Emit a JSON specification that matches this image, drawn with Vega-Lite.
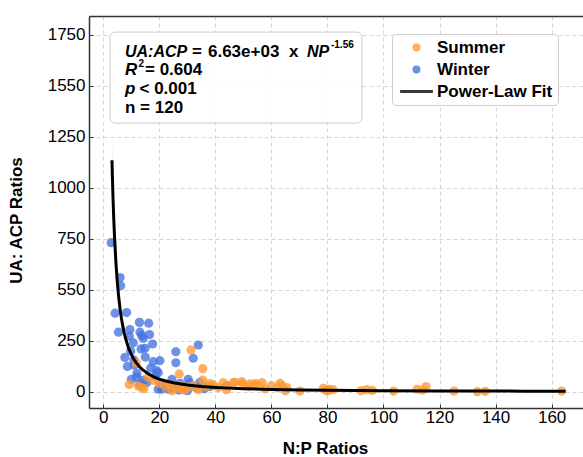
{
  "$schema": "https://vega.github.io/schema/vega-lite/v6.json",
  "width": 494,
  "height": 392,
  "autosize": "none",
  "padding": {"left": 89, "top": 16, "right": 0, "bottom": 48},
  "config": {
    "view": {"stroke": null},
    "font": "Liberation Sans",
    "axis": {
      "labelFont": "Liberation Sans", "labelFontSize": 17, "labelColor": "black",
      "titleFont": "Liberation Sans", "titleFontSize": 17, "titleFontWeight": "bold", "titleColor": "black",
      "domainColor": "#333333", "domainWidth": 1.5, "tickColor": "#333333", "tickSize": -4, "tickWidth": 1,
      "gridColor": "#cccccc", "gridDash": [4, 3], "gridWidth": 0.8
    }
  },
  "datasets": {
    "pts": [
      {"season": "Winter", "np": 2.8, "uaacp": 731}, {"season": "Winter", "np": 6.0, "uaacp": 560}, {"season": "Winter", "np": 6.2, "uaacp": 520},
      {"season": "Winter", "np": 4.2, "uaacp": 385}, {"season": "Winter", "np": 8.3, "uaacp": 388}, {"season": "Winter", "np": 5.4, "uaacp": 292},
      {"season": "Winter", "np": 9.5, "uaacp": 305}, {"season": "Winter", "np": 9.3, "uaacp": 272}, {"season": "Winter", "np": 12.9, "uaacp": 340},
      {"season": "Winter", "np": 16.2, "uaacp": 336}, {"season": "Winter", "np": 13.1, "uaacp": 292}, {"season": "Winter", "np": 13.7, "uaacp": 275},
      {"season": "Winter", "np": 14.3, "uaacp": 262}, {"season": "Winter", "np": 10.7, "uaacp": 240}, {"season": "Winter", "np": 14.9, "uaacp": 213},
      {"season": "Winter", "np": 17.6, "uaacp": 234}, {"season": "Winter", "np": 7.7, "uaacp": 168}, {"season": "Winter", "np": 8.6, "uaacp": 124},
      {"season": "Winter", "np": 10.9, "uaacp": 155}, {"season": "Winter", "np": 17.8, "uaacp": 147}, {"season": "Winter", "np": 20.2, "uaacp": 152},
      {"season": "Winter", "np": 16.9, "uaacp": 115}, {"season": "Winter", "np": 19.6, "uaacp": 93}, {"season": "Winter", "np": 11.9, "uaacp": 71},
      {"season": "Winter", "np": 14.3, "uaacp": 57}, {"season": "Winter", "np": 25.9, "uaacp": 196}, {"season": "Winter", "np": 25.9, "uaacp": 142},
      {"season": "Winter", "np": 33.9, "uaacp": 229}, {"season": "Winter", "np": 32.1, "uaacp": 164}, {"season": "Winter", "np": 19.6, "uaacp": 12},
      {"season": "Winter", "np": 20.8, "uaacp": 12}, {"season": "Winter", "np": 23.2, "uaacp": 12}, {"season": "Winter", "np": 25.0, "uaacp": 17},
      {"season": "Winter", "np": 27.4, "uaacp": 41}, {"season": "Winter", "np": 30.3, "uaacp": 61}, {"season": "Winter", "np": 30.9, "uaacp": 41},
      {"season": "Winter", "np": 34.5, "uaacp": 46}, {"season": "Winter", "np": 38.1, "uaacp": 25}, {"season": "Winter", "np": 44.0, "uaacp": 28},
      {"season": "Winter", "np": 22.0, "uaacp": 30}, {"season": "Winter", "np": 27.0, "uaacp": 8}, {"season": "Winter", "np": 30.0, "uaacp": 5},
      {"season": "Winter", "np": 13.0, "uaacp": 36}, {"season": "Winter", "np": 15.5, "uaacp": 45}, {"season": "Winter", "np": 18.5, "uaacp": 75},
      {"season": "Winter", "np": 12.0, "uaacp": 90}, {"season": "Winter", "np": 11.0, "uaacp": 130}, {"season": "Winter", "np": 9.8, "uaacp": 200},
      {"season": "Winter", "np": 15.0, "uaacp": 170}, {"season": "Winter", "np": 24.5, "uaacp": 60}, {"season": "Winter", "np": 33.0, "uaacp": 20},
      {"season": "Winter", "np": 36.0, "uaacp": 15}, {"season": "Winter", "np": 20.5, "uaacp": 30}, {"season": "Winter", "np": 13.5, "uaacp": 210},
      {"season": "Winter", "np": 16.5, "uaacp": 280}, {"season": "Winter", "np": 10.0, "uaacp": 60}, {"season": "Winter", "np": 19.0, "uaacp": 103},
      {"season": "Summer", "np": 9.3, "uaacp": 35}, {"season": "Summer", "np": 13.6, "uaacp": 21}, {"season": "Summer", "np": 11.8, "uaacp": 142},
      {"season": "Summer", "np": 31.3, "uaacp": 205}, {"season": "Summer", "np": 35.5, "uaacp": 113}, {"season": "Summer", "np": 27.1, "uaacp": 87},
      {"season": "Summer", "np": 35.5, "uaacp": 57}, {"season": "Summer", "np": 12.5, "uaacp": 28}, {"season": "Summer", "np": 14.5, "uaacp": 15},
      {"season": "Summer", "np": 16.0, "uaacp": 70}, {"season": "Summer", "np": 22.0, "uaacp": 25}, {"season": "Summer", "np": 24.6, "uaacp": 5},
      {"season": "Summer", "np": 26.0, "uaacp": 18}, {"season": "Summer", "np": 28.0, "uaacp": 12}, {"season": "Summer", "np": 30.0, "uaacp": 22},
      {"season": "Summer", "np": 32.0, "uaacp": 30}, {"season": "Summer", "np": 33.5, "uaacp": 15}, {"season": "Summer", "np": 36.9, "uaacp": 25},
      {"season": "Summer", "np": 38.0, "uaacp": 40}, {"season": "Summer", "np": 39.3, "uaacp": 33}, {"season": "Summer", "np": 41.0, "uaacp": 20},
      {"season": "Summer", "np": 42.8, "uaacp": 44}, {"season": "Summer", "np": 44.5, "uaacp": 30}, {"season": "Summer", "np": 46.4, "uaacp": 44},
      {"season": "Summer", "np": 47.0, "uaacp": 46}, {"season": "Summer", "np": 49.4, "uaacp": 49}, {"season": "Summer", "np": 49.7, "uaacp": 40},
      {"season": "Summer", "np": 51.8, "uaacp": 25}, {"season": "Summer", "np": 52.4, "uaacp": 38}, {"season": "Summer", "np": 54.1, "uaacp": 38},
      {"season": "Summer", "np": 54.7, "uaacp": 38}, {"season": "Summer", "np": 56.7, "uaacp": 44}, {"season": "Summer", "np": 57.7, "uaacp": 14},
      {"season": "Summer", "np": 63.1, "uaacp": 41}, {"season": "Summer", "np": 63.6, "uaacp": 30}, {"season": "Summer", "np": 62.2, "uaacp": 20},
      {"season": "Summer", "np": 65.5, "uaacp": 20}, {"season": "Summer", "np": 70.2, "uaacp": 3}, {"season": "Summer", "np": 78.5, "uaacp": 16},
      {"season": "Summer", "np": 79.5, "uaacp": 8}, {"season": "Summer", "np": 80.5, "uaacp": 12}, {"season": "Summer", "np": 82.0, "uaacp": 10},
      {"season": "Summer", "np": 92.0, "uaacp": 5}, {"season": "Summer", "np": 94.0, "uaacp": 10}, {"season": "Summer", "np": 96.0, "uaacp": 6},
      {"season": "Summer", "np": 103.6, "uaacp": 3}, {"season": "Summer", "np": 112.0, "uaacp": 12}, {"season": "Summer", "np": 115.2, "uaacp": 25},
      {"season": "Summer", "np": 114.0, "uaacp": 8}, {"season": "Summer", "np": 125.2, "uaacp": 3}, {"season": "Summer", "np": 133.5, "uaacp": 0},
      {"season": "Summer", "np": 136.3, "uaacp": 2}, {"season": "Summer", "np": 163.6, "uaacp": 3}, {"season": "Summer", "np": 27.5, "uaacp": 30},
      {"season": "Summer", "np": 20.0, "uaacp": 40}, {"season": "Summer", "np": 18.0, "uaacp": 55}, {"season": "Summer", "np": 23.5, "uaacp": 35},
      {"season": "Summer", "np": 29.0, "uaacp": 8}, {"season": "Summer", "np": 34.0, "uaacp": 10}, {"season": "Summer", "np": 44.0, "uaacp": 10},
      {"season": "Summer", "np": 60.0, "uaacp": 30}, {"season": "Summer", "np": 65.0, "uaacp": 5}, {"season": "Summer", "np": 80.0, "uaacp": 3}
    ],
    "fit": [
      {"season": "Power-Law Fit", "np": 3.1, "fit": 1135, "lo": 1020, "hi": 1250},
      {"season": "Power-Law Fit", "np": 3.25, "fit": 1054, "lo": 955, "hi": 1155},
      {"season": "Power-Law Fit", "np": 3.5, "fit": 939, "lo": 858, "hi": 1020},
      {"season": "Power-Law Fit", "np": 3.75, "fit": 843, "lo": 776, "hi": 910},
      {"season": "Power-Law Fit", "np": 4, "fit": 763, "lo": 707, "hi": 819},
      {"season": "Power-Law Fit", "np": 4.5, "fit": 635, "lo": 594, "hi": 676},
      {"season": "Power-Law Fit", "np": 5, "fit": 538, "lo": 507, "hi": 569},
      {"season": "Power-Law Fit", "np": 5.5, "fit": 464, "lo": 440, "hi": 488},
      {"season": "Power-Law Fit", "np": 6, "fit": 405, "lo": 386, "hi": 424},
      {"season": "Power-Law Fit", "np": 6.5, "fit": 358, "lo": 342, "hi": 374},
      {"season": "Power-Law Fit", "np": 7, "fit": 319, "lo": 306, "hi": 332},
      {"season": "Power-Law Fit", "np": 7.5, "fit": 286, "lo": 275, "hi": 297},
      {"season": "Power-Law Fit", "np": 8, "fit": 259, "lo": 249, "hi": 269},
      {"season": "Power-Law Fit", "np": 9, "fit": 215, "lo": 207, "hi": 223},
      {"season": "Power-Law Fit", "np": 10, "fit": 182.6, "lo": 176, "hi": 189},
      {"season": "Power-Law Fit", "np": 11, "fit": 157.3, "lo": 152, "hi": 163},
      {"season": "Power-Law Fit", "np": 12, "fit": 137.4, "lo": 133, "hi": 142},
      {"season": "Power-Law Fit", "np": 13, "fit": 121.3, "lo": 117, "hi": 125},
      {"season": "Power-Law Fit", "np": 14, "fit": 108.0, "lo": 104, "hi": 112},
      {"season": "Power-Law Fit", "np": 16, "fit": 87.7, "lo": 85, "hi": 90.5},
      {"season": "Power-Law Fit", "np": 18, "fit": 73.0, "lo": 70.5, "hi": 75.5},
      {"season": "Power-Law Fit", "np": 20, "fit": 61.9, "lo": 60, "hi": 64},
      {"season": "Power-Law Fit", "np": 22, "fit": 53.4, "lo": 51.5, "hi": 55.3},
      {"season": "Power-Law Fit", "np": 25, "fit": 43.7, "lo": 42.2, "hi": 45.2},
      {"season": "Power-Law Fit", "np": 30, "fit": 32.9, "lo": 31.8, "hi": 34},
      {"season": "Power-Law Fit", "np": 35, "fit": 25.9, "lo": 25, "hi": 26.8},
      {"season": "Power-Law Fit", "np": 40, "fit": 21.0, "lo": 20.3, "hi": 21.7},
      {"season": "Power-Law Fit", "np": 45, "fit": 17.5, "lo": 16.9, "hi": 18.1},
      {"season": "Power-Law Fit", "np": 50, "fit": 14.8, "lo": 14.3, "hi": 15.3},
      {"season": "Power-Law Fit", "np": 60, "fit": 11.2, "lo": 10.8, "hi": 11.6},
      {"season": "Power-Law Fit", "np": 70, "fit": 8.77, "lo": 8.4, "hi": 9.1},
      {"season": "Power-Law Fit", "np": 80, "fit": 7.13, "lo": 6.8, "hi": 7.5},
      {"season": "Power-Law Fit", "np": 100, "fit": 5.03, "lo": 4.8, "hi": 5.3},
      {"season": "Power-Law Fit", "np": 120, "fit": 3.78, "lo": 3.6, "hi": 4.0},
      {"season": "Power-Law Fit", "np": 130, "fit": 3.34, "lo": 3.15, "hi": 3.55},
      {"season": "Power-Law Fit", "np": 150, "fit": 2.67, "lo": 2.5, "hi": 2.85},
      {"season": "Power-Law Fit", "np": 165, "fit": 2.30, "lo": 2.1, "hi": 2.5}
    ]
  },
  "resolve": {"axis": {"x": "independent"}},
  "layer": [
    {
      "data": {"name": "fit"},
      "mark": {"type": "area", "color": "#9a9a9a", "opacity": 0.35},
      "encoding": {
        "x": {"field": "np", "type": "quantitative",
              "scale": {"domain": [-5.1, 171.2], "nice": false, "zero": false},
              "axis": {"orient": "top", "labels": false, "ticks": false, "grid": false, "title": null}},
        "y": {"field": "lo", "type": "quantitative", "title": "UA: ACP Ratios",
              "scale": {"domain": [-80, 1843], "nice": false, "zero": false},
              "axis": {"values": [0, 250, 500, 750, 1000, 1250, 1500, 1750], "format": "d",
                       "labelExpr": "datum.value == 500 ? '550' : datum.value == 1500 ? '1550' : datum.label",
                       "labelPadding": 8, "titleX": -64, "titleY": 204, "grid": true}},
        "y2": {"field": "hi"}
      }
    },
    {
      "data": {"name": "pts"},
      "mark": {"type": "point", "filled": true, "size": 85, "opacity": 0.78, "strokeWidth": 0},
      "encoding": {
        "x": {"field": "np", "type": "quantitative",
              "axis": {"values": [0, 20, 40, 60, 80, 100, 120, 140, 160], "title": "N:P Ratios",
                       "grid": true, "labelPadding": 5, "titleX": 236, "titleY": 45, "titleBaseline": "alphabetic"}},
        "y": {"field": "uaacp", "type": "quantitative", "title": "UA: ACP Ratios"},
        "color": {"field": "season", "type": "nominal",
                  "scale": {"domain": ["Summer", "Winter", "Power-Law Fit"], "range": ["#FF9933", "#4472E0", "#000000"]},
                  "legend": {"orient": "none", "legendX": 303, "legendY": 18, "title": null,
                             "labelFont": "Liberation Sans", "labelFontSize": 17, "labelFontWeight": "bold", "labelColor": "black",
                             "fillColor": "white", "strokeColor": "#cccccc", "cornerRadius": 4, "padding": 5, "rowPadding": 4,
                             "symbolOffset": 11, "labelOffset": 12, "symbolSize": 64, "symbolStrokeWidth": 0}},
        "shape": {"field": "season", "type": "nominal",
                  "scale": {"domain": ["Summer", "Winter", "Power-Law Fit"], "range": ["circle", "circle", "M-4.1,-0.38L4.1,-0.38L4.1,0.38L-4.1,0.38Z"]},
                  "legend": {"orient": "none", "legendX": 303, "legendY": 18, "title": null,
                             "labelFont": "Liberation Sans", "labelFontSize": 17, "labelFontWeight": "bold", "labelColor": "black",
                             "fillColor": "white", "strokeColor": "#cccccc", "cornerRadius": 4, "padding": 5, "rowPadding": 4,
                             "symbolOffset": 11, "labelOffset": 12, "symbolSize": 64, "symbolStrokeWidth": 0}}
      }
    },
    {
      "data": {"name": "fit"},
      "mark": {"type": "line", "strokeWidth": 3},
      "encoding": {
        "x": {"field": "np", "type": "quantitative", "axis": null},
        "y": {"field": "fit", "type": "quantitative", "title": "UA: ACP Ratios"},
        "color": {"field": "season", "type": "nominal", "legend": null}
      }
    },
    {
      "data": {"values": [{"x1": 2.39, "x2": 92.3, "y1": 1764, "y2": 1318}]},
      "mark": {"type": "rect", "fill": "white", "fillOpacity": 0.9, "stroke": "#cccccc", "strokeWidth": 1, "cornerRadius": 5},
      "encoding": {
        "x": {"field": "x1", "type": "quantitative", "axis": null},
        "x2": {"field": "x2"},
        "y": {"field": "y1", "type": "quantitative", "title": "UA: ACP Ratios"},
        "y2": {"field": "y2"}
      }
    },
    {
      "data": {"values": [{"label": "UA:ACP", "np": 7.74, "ua": 1643}]},
      "mark": {"type": "text", "align": "left", "baseline": "alphabetic", "fontSize": 16, "fontWeight": "bold", "fontStyle": "italic", "color": "black"},
      "encoding": {"x": {"field": "np", "type": "quantitative", "axis": null}, "y": {"field": "ua", "type": "quantitative", "title": "UA: ACP Ratios"}, "text": {"field": "label"}}
    },
    {
      "data": {"values": [{"label": "=", "np": 7.74, "ua": 1643}]},
      "mark": {"type": "text", "align": "left", "baseline": "alphabetic", "fontSize": 17, "fontWeight": "bold", "dx": 67, "color": "black"},
      "encoding": {"x": {"field": "np", "type": "quantitative", "axis": null}, "y": {"field": "ua", "type": "quantitative", "title": "UA: ACP Ratios"}, "text": {"field": "label"}}
    },
    {
      "data": {"values": [{"label": "6.63e+03", "np": 7.74, "ua": 1643}]},
      "mark": {"type": "text", "align": "left", "baseline": "alphabetic", "fontSize": 17, "fontWeight": "bold", "dx": 83, "color": "black"},
      "encoding": {"x": {"field": "np", "type": "quantitative", "axis": null}, "y": {"field": "ua", "type": "quantitative", "title": "UA: ACP Ratios"}, "text": {"field": "label"}}
    },
    {
      "data": {"values": [{"label": "x", "np": 7.74, "ua": 1643}]},
      "mark": {"type": "text", "align": "left", "baseline": "alphabetic", "fontSize": 17, "fontWeight": "bold", "dx": 164, "color": "black"},
      "encoding": {"x": {"field": "np", "type": "quantitative", "axis": null}, "y": {"field": "ua", "type": "quantitative", "title": "UA: ACP Ratios"}, "text": {"field": "label"}}
    },
    {
      "data": {"values": [{"label": "NP", "np": 7.74, "ua": 1643}]},
      "mark": {"type": "text", "align": "left", "baseline": "alphabetic", "fontSize": 16, "fontWeight": "bold", "fontStyle": "italic", "dx": 182, "color": "black"},
      "encoding": {"x": {"field": "np", "type": "quantitative", "axis": null}, "y": {"field": "ua", "type": "quantitative", "title": "UA: ACP Ratios"}, "text": {"field": "label"}}
    },
    {
      "data": {"values": [{"label": "-1.56", "np": 7.74, "ua": 1643}]},
      "mark": {"type": "text", "align": "left", "baseline": "alphabetic", "fontSize": 10, "fontWeight": "bold", "dx": 206, "dy": -9, "color": "black"},
      "encoding": {"x": {"field": "np", "type": "quantitative", "axis": null}, "y": {"field": "ua", "type": "quantitative", "title": "UA: ACP Ratios"}, "text": {"field": "label"}}
    },
    {
      "data": {"values": [{"label": "R", "np": 7.74, "ua": 1554}, {"label": "p", "np": 7.74, "ua": 1461}]},
      "mark": {"type": "text", "align": "left", "baseline": "alphabetic", "fontSize": 17, "fontWeight": "bold", "fontStyle": "italic", "color": "black"},
      "encoding": {"x": {"field": "np", "type": "quantitative", "axis": null}, "y": {"field": "ua", "type": "quantitative", "title": "UA: ACP Ratios"}, "text": {"field": "label"}}
    },
    {
      "data": {"values": [{"label": "2", "np": 7.74, "ua": 1554}]},
      "mark": {"type": "text", "align": "left", "baseline": "alphabetic", "fontSize": 10, "fontWeight": "bold", "dx": 13.5, "dy": -8, "color": "black"},
      "encoding": {"x": {"field": "np", "type": "quantitative", "axis": null}, "y": {"field": "ua", "type": "quantitative", "title": "UA: ACP Ratios"}, "text": {"field": "label"}}
    },
    {
      "data": {"values": [{"label": "= 0.604", "np": 7.74, "ua": 1554}]},
      "mark": {"type": "text", "align": "left", "baseline": "alphabetic", "fontSize": 17, "fontWeight": "bold", "dx": 20, "color": "black"},
      "encoding": {"x": {"field": "np", "type": "quantitative", "axis": null}, "y": {"field": "ua", "type": "quantitative", "title": "UA: ACP Ratios"}, "text": {"field": "label"}}
    },
    {
      "data": {"values": [{"label": "< 0.001", "np": 7.74, "ua": 1461}]},
      "mark": {"type": "text", "align": "left", "baseline": "alphabetic", "fontSize": 17, "fontWeight": "bold", "dx": 14.5, "color": "black"},
      "encoding": {"x": {"field": "np", "type": "quantitative", "axis": null}, "y": {"field": "ua", "type": "quantitative", "title": "UA: ACP Ratios"}, "text": {"field": "label"}}
    },
    {
      "data": {"values": [{"label": "n = 120", "np": 7.74, "ua": 1366}]},
      "mark": {"type": "text", "align": "left", "baseline": "alphabetic", "fontSize": 17, "fontWeight": "bold", "color": "black"},
      "encoding": {"x": {"field": "np", "type": "quantitative", "axis": null}, "y": {"field": "ua", "type": "quantitative", "title": "UA: ACP Ratios"}, "text": {"field": "label"}}
    }
  ]
}
